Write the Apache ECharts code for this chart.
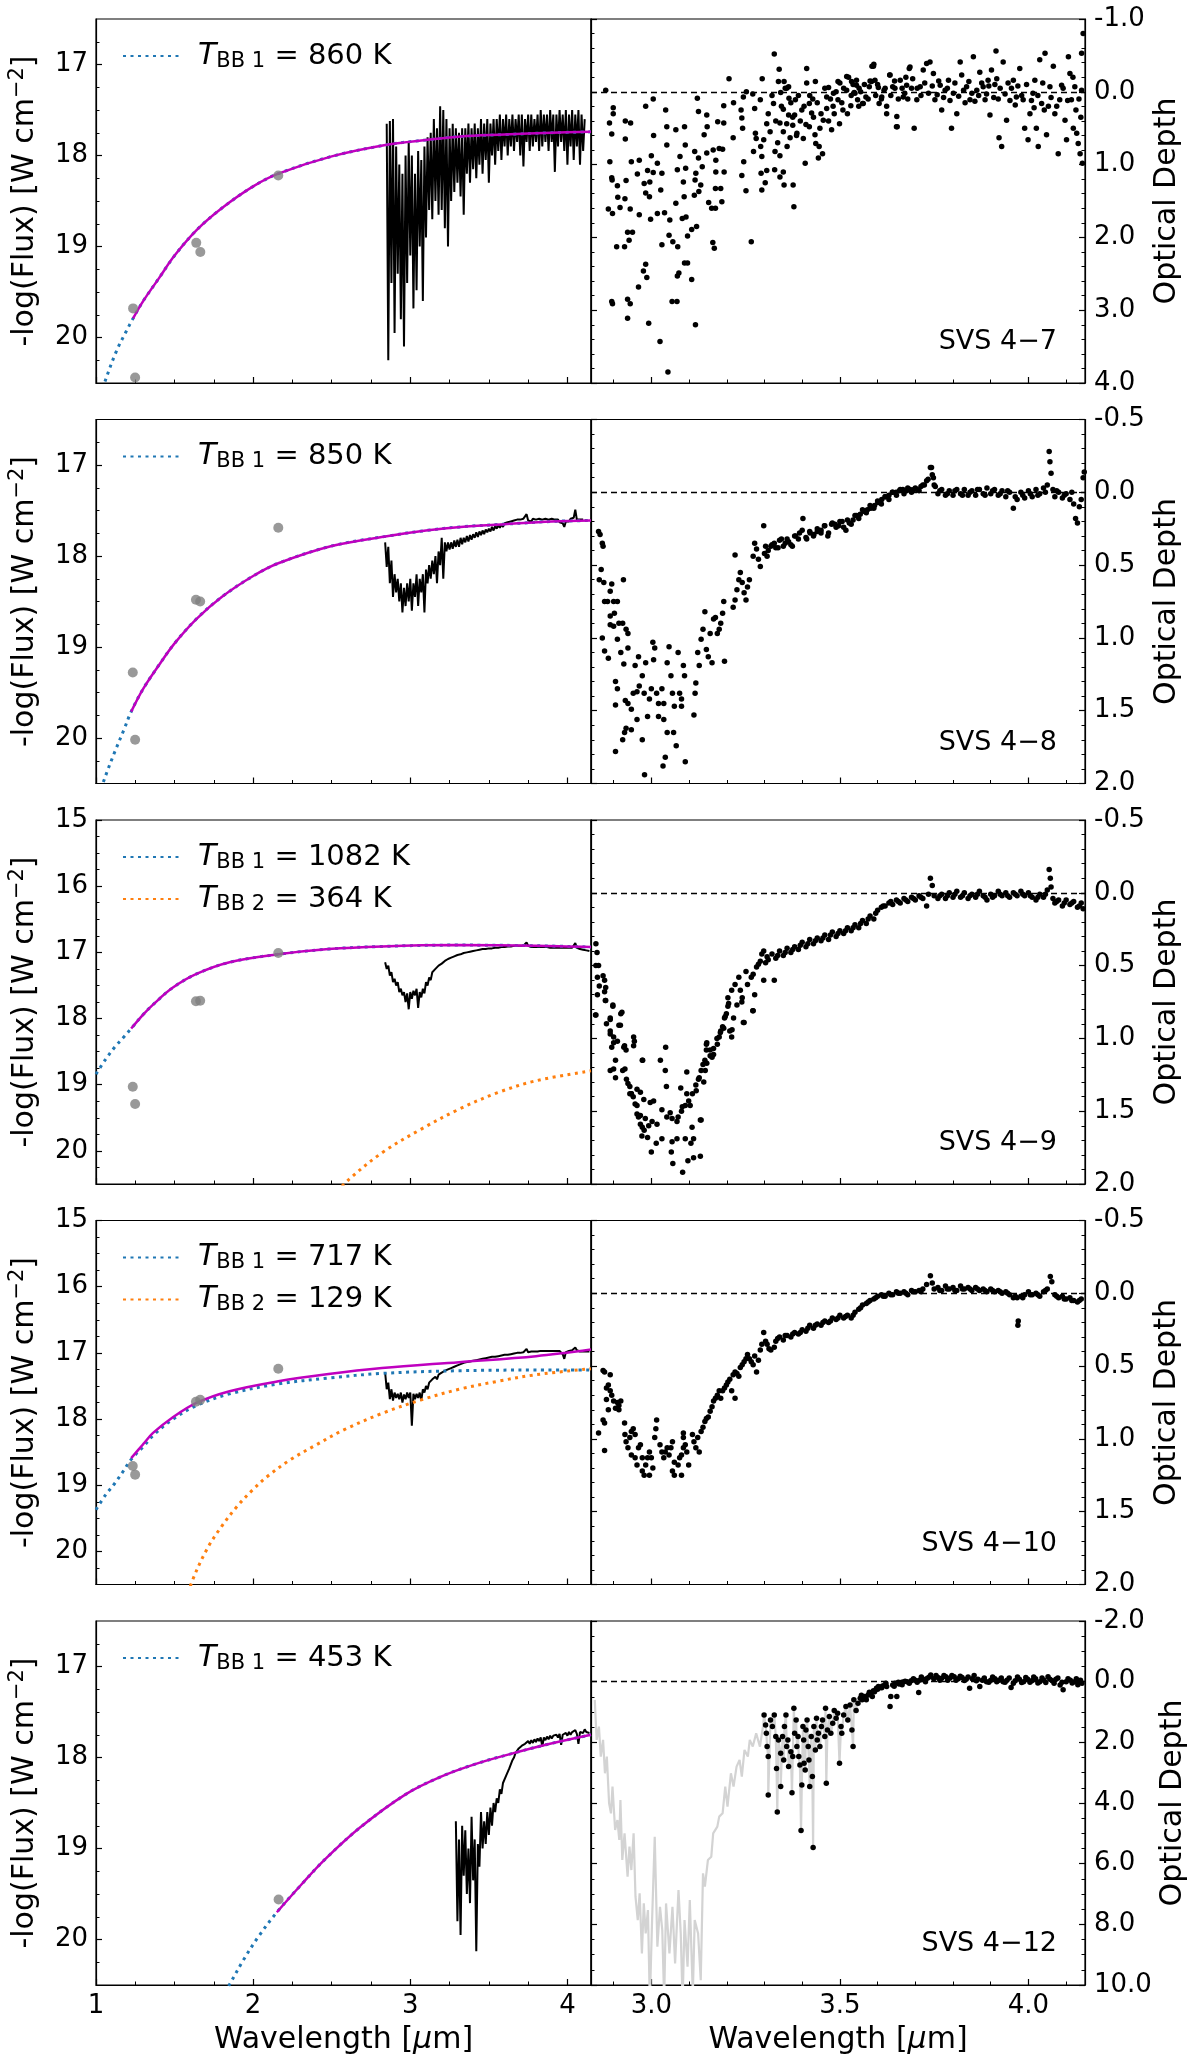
<!DOCTYPE html>
<html><head><meta charset="utf-8">
<script src="https://cdn.jsdelivr.net/npm/echarts@6/dist/echarts.min.js"></script>
<style>html,body{margin:0;padding:0;background:#fff}#c{width:1200px;height:2065px}</style>
</head><body><div id="c"></div>
<script>
// ---------------- DATA ----------------
const sourceNames = ['SVS 4\u22127','SVS 4\u22128','SVS 4\u22129','SVS 4\u221210','SVS 4\u221212'];
const tempBB1 = [860, 850, 1082, 717, 453];
const tempBB2 = [null, null, 364, 129, null];

const leftXMajor = [1,2,3,4];
const leftXMinor = [1.25,1.5,1.75,2.25,2.5,2.75,3.25,3.5,3.75];
const rightXMajor = [3.0,3.5,4.0];
const rightXMinor = [2.9,3.1,3.2,3.3,3.4,3.6,3.7,3.8,3.9,4.1];
const fluxMajorA = [17,18,19,20];
const fluxMinorA = [16.75,17.25,17.5,17.75,18.25,18.5,18.75,19.25,19.5,19.75,20.25];
const fluxMajorB = [15,16,17,18,19,20];
const fluxMinorB = [15.25,15.5,15.75,16.25,16.5,16.75,17.25,17.5,17.75,18.25,18.5,18.75,19.25,19.5,19.75,20.25];

// wavelength grid of the spectra (um)
const wavelengthGrid = [2.84,2.85,2.86,2.87,2.88,2.89,
2.90,2.91,2.92,2.93,2.94,2.95,2.96,2.97,2.98,2.99,
3.00,3.01,3.02,3.03,3.04,3.05,3.06,3.07,3.08,3.09,
3.10,3.11,3.12,3.13,3.14,3.15,3.16,3.17,3.18,3.19,
3.20,3.21,3.22,3.23,3.24,3.25,3.26,3.27,3.28,3.29,
3.30,3.31,3.32,3.33,3.34,3.35,3.36,3.37,3.38,3.39,
3.40,3.41,3.42,3.43,3.44,3.45,3.46,3.47,3.48,3.49,
3.50,3.51,3.52,3.53,3.54,3.55,3.56,3.57,3.58,3.59,
3.60,3.61,3.62,3.63,3.64,3.65,3.66,3.67,3.68,3.69,
3.70,3.71,3.72,3.73,3.74,3.75,3.76,3.77,3.78,3.79,
3.80,3.81,3.82,3.83,3.84,3.85,3.86,3.87,3.88,3.89,
3.90,3.91,3.92,3.93,3.94,3.95,3.96,3.97,3.98,3.99,
4.00,4.01,4.02,4.03,4.04,4.05,4.06,4.07,4.08,4.09,
4.10,4.11,4.12,4.13,4.14];

// -log(Flux) spectra on the grid above
const spec47 = [null,17.65,20.25,17.62,19.4,17.6,
19.95,17.9,19.3,18.1,19.8,18.2,20.1,18.0,19.4,17.85,
19.1,18.0,19.68,18.2,19.48,17.95,19.0,18.05,19.6,17.9,
18.9,17.8,18.6,17.75,18.7,17.6,18.5,17.7,18.65,17.46,
18.6,17.5,18.8,17.6,19.0,17.7,18.5,17.65,18.4,17.7,
18.3,17.75,18.45,17.7,18.65,17.7,18.2,17.65,18.3,17.7,
18.15,17.65,18.25,17.7,18.1,17.6,18.2,17.65,18.05,17.6,
18.3,17.65,18.0,17.6,18.1,17.6,17.95,17.55,18.05,17.6,
17.9,17.55,18.0,17.6,17.9,17.55,17.95,17.6,17.85,17.55,
18.0,17.55,18.12,17.6,17.85,17.55,17.95,17.55,17.9,17.6,
17.85,17.55,17.95,17.5,17.9,17.55,17.85,17.55,17.95,17.5,
17.85,17.55,18.18,17.55,17.9,17.5,17.85,17.55,17.95,17.5,
18.1,17.55,17.9,17.5,18.05,17.55,17.9,17.5,18.1,17.55,
17.95,17.6,null,null,null];
const spec48 = [17.85,18.12,17.9,18.3,18.05,18.45,
18.2,18.4,18.25,18.5,18.3,18.62,18.35,18.55,18.3,18.5,
18.25,18.6,18.3,18.45,18.2,18.55,18.25,18.4,18.2,18.62,
18.15,18.3,18.1,18.25,18.05,18.2,18.0,18.3,17.95,18.1,
17.8,18.25,17.85,17.95,17.85,17.93,17.85,17.92,17.83,17.9,
17.82,17.9,17.8,17.87,17.8,17.85,17.78,17.84,17.77,17.82,
17.76,17.8,17.74,17.79,17.73,17.77,17.72,17.76,17.71,17.74,
17.7,17.73,17.68,17.72,17.67,17.7,17.66,17.69,17.65,17.68,
17.64,17.66,17.63,17.65,17.62,17.64,17.61,17.63,17.6,17.62,
17.6,17.62,17.59,17.61,17.54,17.61,17.6,17.62,17.59,17.61,
17.6,17.62,17.59,17.61,17.6,17.62,17.59,17.61,17.6,17.62,
17.59,17.61,17.6,17.62,17.6,17.63,17.61,17.64,17.68,17.62,
17.6,17.62,17.59,17.61,17.58,17.49,17.6,17.62,17.6,17.61,
17.6,null,null,null,null];
const spec49 = [17.15,17.25,17.2,17.35,17.3,17.45,
17.4,17.5,17.45,17.6,17.55,17.65,17.6,17.75,17.62,17.86,
17.6,17.7,17.58,17.65,17.55,17.84,17.6,17.68,17.55,17.62,
17.45,17.5,17.38,17.42,17.3,17.33,17.25,17.27,17.2,17.22,
17.17,17.18,17.13,17.15,17.1,17.12,17.08,17.1,17.06,17.08,
17.04,17.06,17.03,17.04,17.01,17.03,17.0,17.01,16.99,17.0,
16.98,16.99,16.97,16.98,16.96,16.97,16.95,16.96,16.95,16.96,
16.94,16.95,16.94,16.95,16.93,16.94,16.93,16.94,16.92,16.93,
16.92,16.93,16.91,16.92,16.91,16.92,16.9,16.91,16.9,16.91,
16.9,16.91,16.9,16.89,16.85,16.9,16.91,16.92,16.91,16.92,
16.91,16.92,16.91,16.92,16.91,16.92,16.91,16.92,16.91,16.93,
16.92,16.93,16.92,16.93,16.92,16.93,16.92,16.93,16.94,16.93,
16.92,16.93,16.92,16.93,16.92,16.86,16.93,16.94,16.95,16.94,
16.96,16.95,16.97,16.96,16.98];
const spec410 = [17.3,17.55,17.45,17.7,17.55,17.72,
17.6,17.68,17.62,17.7,17.6,17.75,17.63,17.7,17.6,17.68,
17.6,18.1,17.62,17.7,17.62,17.68,17.6,17.72,17.55,17.6,
17.5,17.55,17.45,17.48,17.4,17.43,17.36,17.4,17.33,17.36,
17.3,17.33,17.27,17.3,17.25,17.28,17.23,17.26,17.21,17.23,
17.19,17.21,17.17,17.19,17.15,17.17,17.14,17.16,17.13,17.15,
17.12,17.14,17.11,17.12,17.1,17.12,17.09,17.11,17.08,17.1,
17.07,17.09,17.06,17.08,17.06,17.07,17.05,17.07,17.04,17.06,
17.03,17.05,17.03,17.04,17.02,17.03,17.01,17.03,17.0,17.02,
17.0,17.01,16.99,16.99,16.94,16.99,17.0,16.98,17.0,16.98,
16.99,16.98,16.99,16.97,16.99,16.97,16.98,16.97,16.98,16.97,
16.98,16.97,16.98,16.97,16.98,16.97,16.99,17.02,17.09,16.99,
16.98,16.97,16.98,16.96,16.95,16.92,16.96,16.97,16.98,16.97,
16.98,16.97,16.98,16.97,16.98];
const spec412 = [null,null,null,null,null,null,
null,null,null,null,null,null,null,null,null,null,
null,null,null,null,null,null,null,null,null,null,
null,null,null,null,null,null,null,null,null,null,
null,null,null,null,null,null,null,null,null,18.7,
19.8,18.9,19.95,18.75,19.3,18.8,19.5,19.0,19.6,18.65,
19.35,18.9,20.13,18.95,19.2,18.6,19.0,18.7,18.95,18.6,
18.85,18.55,18.75,18.5,18.6,18.45,18.5,18.35,18.4,18.28,
18.3,18.2,18.22,18.12,18.1,18.03,18.0,17.95,17.96,17.9,
17.92,17.87,17.89,17.85,17.87,17.82,17.85,17.81,17.84,17.8,
17.83,17.79,17.82,17.78,17.88,17.78,17.81,17.77,17.8,17.76,
17.79,17.76,17.78,17.75,17.78,17.74,17.86,17.75,17.77,17.73,
17.76,17.72,17.75,17.72,17.74,17.7,17.74,17.85,17.72,17.7,
17.73,17.69,17.72,17.7,17.73];

// blackbody curves [wavelength, -log F]
const bb1_47 = [[1.0,20.8],[1.06,20.47],[1.13,20.15],[1.19,19.94],[1.236,19.79],[1.3,19.6],[1.4,19.35],[1.5,19.1],[1.64,18.82],[1.8,18.58],[2.0,18.34],[2.16,18.2],[2.5,18.01],[2.86,17.88],[3.1,17.83],[3.32,17.79],[3.6,17.77],[3.9,17.75],[4.15,17.74]];
const mag47 = [[1.236,19.79],[1.3,19.6],[1.4,19.35],[1.5,19.1],[1.64,18.82],[1.8,18.58],[2.0,18.34],[2.16,18.2],[2.5,18.01],[2.86,17.88],[3.1,17.83],[3.32,17.79],[3.6,17.77],[3.9,17.75],[4.15,17.74]];
const bb1_48 = [[1.0,20.72],[1.06,20.42],[1.12,20.15],[1.18,19.9],[1.224,19.71],[1.3,19.46],[1.4,19.2],[1.5,18.96],[1.64,18.69],[1.8,18.45],[2.0,18.22],[2.16,18.08],[2.5,17.89],[2.86,17.78],[3.1,17.72],[3.32,17.68],[3.6,17.65],[3.9,17.62],[4.15,17.61]];
const mag48 = [[1.224,19.71],[1.3,19.46],[1.4,19.2],[1.5,18.96],[1.64,18.69],[1.8,18.45],[2.0,18.22],[2.16,18.08],[2.5,17.89],[2.86,17.78],[3.1,17.72],[3.32,17.68],[3.6,17.65],[3.9,17.62],[4.15,17.61]];
const bb1_49 = [[1.0,18.84],[1.06,18.62],[1.12,18.43],[1.18,18.27],[1.224,18.15],[1.3,17.94],[1.363,17.79],[1.485,17.54],[1.636,17.33],[1.85,17.15],[2.16,17.03],[2.48,16.95],[2.82,16.91],[3.3,16.89],[3.8,16.9],[4.15,16.92]];
const bb2_49 = [[2.5,20.7],[2.61,20.43],[2.825,20.02],[3.07,19.67],[3.31,19.37],[3.556,19.12],[3.8,18.94],[4.15,18.79]];
const mag49 = [[1.224,18.15],[1.3,17.94],[1.363,17.79],[1.485,17.54],[1.636,17.33],[1.85,17.15],[2.16,17.03],[2.48,16.95],[2.82,16.91],[3.3,16.89],[3.8,16.9],[4.15,16.92]];
const bb1_410 = [[1.0,19.37],[1.06,19.15],[1.12,18.97],[1.17,18.8],[1.224,18.61],[1.3,18.42],[1.363,18.25],[1.485,18.01],[1.636,17.8],[1.85,17.62],[2.16,17.47],[2.48,17.38],[2.82,17.31],[3.3,17.27],[3.8,17.26],[4.15,17.26]];
const bb2_410 = [[1.58,20.75],[1.607,20.48],[1.705,19.97],[1.8,19.62],[1.898,19.32],[1.997,19.07],[2.094,18.86],[2.24,18.61],[2.386,18.41],[2.58,18.16],[2.825,17.91],[3.07,17.71],[3.31,17.55],[3.556,17.43],[3.8,17.33],[4.15,17.24]];
const mag410 = [[1.224,18.59],[1.3,18.38],[1.363,18.21],[1.485,17.98],[1.636,17.76],[1.85,17.58],[2.16,17.43],[2.48,17.32],[2.82,17.23],[3.31,17.14],[3.8,17.05],[4.15,16.95]];
const bb1_412 = [[1.75,20.8],[1.848,20.5],[1.94,20.22],[2.033,19.97],[2.151,19.7],[2.31,19.39],[2.457,19.12],[2.68,18.77],[2.975,18.4],[3.196,18.21],[3.418,18.07],[3.64,17.96],[3.862,17.86],[4.15,17.75]];
const mag412 = [[2.151,19.7],[2.31,19.39],[2.457,19.12],[2.68,18.77],[2.975,18.4],[3.196,18.21],[3.418,18.07],[3.64,17.96],[3.862,17.86],[4.15,17.75]];

// photometry (grey dots)
const phot47 = [[1.236,19.68],[1.249,20.44],[1.638,18.96],[1.664,19.06],[2.16,18.22]];
const phot48 = [[1.234,19.28],[1.249,20.02],[1.636,18.48],[1.663,18.5],[2.16,17.69]];
const phot49 = [[1.234,19.03],[1.249,19.29],[1.636,17.74],[1.663,17.73],[2.16,17.01]];
const phot410 = [[1.234,18.71],[1.249,18.84],[1.636,17.74],[1.663,17.71],[2.16,17.24]];
const phot412 = [[2.162,19.56]];

// optical depth [wavelength, tau]
const tau47 = [[2.879,-0.02],[2.899,0.22],[2.899,0.30],[2.889,0.43],[2.895,0.58],[2.890,0.96],[2.895,1.18],[2.896,1.21],[2.910,1.29],[2.886,1.61],[2.897,1.67],[2.908,2.13],[2.895,2.88],[2.897,2.91],
[2.931,0.40],[2.945,0.43],[2.931,0.65],[2.933,1.22],[2.930,1.47],[2.911,1.45],[2.917,1.59],[2.947,0.96],[2.968,0.94],[2.963,1.13],[2.944,1.61],[2.937,1.93],[2.950,1.93],[2.929,2.13],[2.941,2.04],[2.937,2.85],[2.944,2.91],[2.937,3.11],
[2.985,0.20],[3.005,0.10],[3.006,0.60],[3.000,0.88],[3.005,1.11],[2.990,1.08],[2.981,1.26],[2.996,1.24],[2.985,1.39],[2.995,1.44],[2.968,1.69],[2.998,1.75],[2.979,2.46],[2.966,2.68],[2.988,2.55],[2.993,3.18],[2.985,2.37],[3.023,3.43],[3.044,3.85],
[3.038,0.25],[3.041,0.48],[3.041,0.73],[3.016,0.98],[3.028,1.12],[3.025,1.35],[3.016,1.67],[3.035,1.66],[3.049,1.76],[3.028,2.10],[3.047,1.97],[3.057,2.06],[3.055,2.88],[3.068,2.88],
[3.065,0.52],[3.088,0.48],[3.090,0.73],[3.076,0.89],[3.069,1.07],[3.091,1.05],[3.065,1.53],[3.085,1.24],[3.087,1.44],[3.092,1.72],[3.082,1.74],[3.070,2.13],[3.073,2.49],[3.069,2.53],[3.088,2.35],[3.096,2.35],[3.107,2.58],[3.117,3.20],
[3.122,0.09],[3.125,0.27],[3.115,0.82],[3.140,0.59],[3.148,0.48],[3.147,0.84],[3.125,0.91],[3.135,1.03],[3.118,1.12],[3.116,1.21],[3.131,1.28],[3.126,1.37],[3.114,1.42],[3.107,1.89],[3.120,1.85],[3.096,1.98],
[3.147,0.32],[3.152,1.52],[3.160,1.60],[3.170,1.60],[3.187,1.51],[3.163,2.07],[3.167,2.15],[3.170,1.33],[3.184,1.33],[3.171,1.10],[3.193,1.10],[3.171,0.94],[3.164,0.80],[3.180,0.78],[3.189,0.79],[3.192,0.43],[3.192,0.19],[3.176,0.41],
[3.206,-0.18],[3.218,0.15],[3.217,0.63],[3.238,0.25],[3.240,0.36],[3.244,0.07],[3.252,0.00],[3.242,0.50],[3.240,1.15],[3.251,1.36],[3.245,0.96],[3.265,2.06],[3.271,0.82],[3.276,0.57],[3.269,0.03],[3.274,0.23],[3.278,0.64],[3.289,0.11],[3.294,-0.18],[3.291,1.12],[3.293,1.35],[3.306,1.08],[3.302,1.25],[3.290,0.75],[3.293,0.89],[3.298,0.66],[3.306,0.44],
[3.326,-0.52],[3.339,-0.31],[3.337,-0.14],[3.343,0.01],[3.324,0.16],[3.352,-0.14],[3.359,-0.05],[3.364,-0.07],[3.365,0.09],[3.350,0.24],[3.364,0.32],[3.341,0.43],[3.359,0.44],[3.375,0.46],[3.382,0.11],[3.328,0.82],[3.341,0.88],[3.327,1.07],[3.350,1.10],[3.341,1.17],[3.352,1.28],[3.376,1.28],[3.378,1.58],[3.368,0.63],[3.386,0.57],[3.380,0.32],[3.399,0.25],[3.408,0.98],[3.403,0.64],
[3.412,-0.12],[3.412,-0.32],[3.419,0.16],[3.428,0.10],[3.435,-0.14],[3.425,0.29],[3.419,0.48],[3.434,0.59],[3.436,0.71],[3.445,0.75],[3.447,0.50],[3.443,0.91],[3.454,0.85],[3.456,0.39],[3.465,0.23],[3.470,-0.06],[3.465,0.07],[3.478,0.52],[3.482,0.20],[3.495,0.11],[3.495,-0.14],[3.499,0.44],
[3.508,0.25],[3.518,-0.02],[3.523,-0.20],[3.529,0.19],[3.538,0.01],[3.544,-0.09],[3.547,0.11],[3.551,-0.05],[3.560,0.16],[3.569,0.07],[3.578,-0.07],[3.585,-0.35],[3.590,-0.38],[3.593,-0.16],[3.604,0.16],[3.617,-0.02],[3.624,0.30],[3.632,-0.23],[3.640,-0.07],[3.650,0.48],[3.651,0.34],[3.660,-0.16],[3.672,0.02],[3.686,-0.34],
[3.483,0.02],[3.500,-0.12],[3.518,-0.21],[3.531,-0.14],[3.544,-0.16],[3.540,0.02],[3.562,0.16],[3.589,-0.35],[3.584,-0.14],[3.602,-0.06],[3.611,0.07],[3.624,0.20],[3.633,-0.23],[3.646,-0.05],[3.652,0.48],[3.668,0.07],[3.677,-0.09],[3.684,-0.32],
[3.693,-0.18],[3.697,0.50],[3.704,0.11],[3.713,-0.07],[3.721,-0.30],[3.730,-0.39],[3.739,-0.41],[3.748,-0.25],[3.752,0.11],[3.766,-0.09],[3.770,0.25],[3.779,-0.02],[3.788,-0.16],[3.796,0.50],[3.801,0.02],[3.810,0.30],[3.819,-0.41],[3.823,-0.23],[3.836,-0.07],[3.845,0.11],[3.854,-0.48],[3.863,-0.02],[3.871,-0.27],[3.880,-0.07],[3.885,0.11],[3.893,-0.16],[3.898,0.32],[3.902,-0.30],[3.914,-0.56],[3.916,-0.18],[3.922,0.63],[3.929,0.75],[3.925,-0.05],[3.933,-0.41],[3.942,0.39],[3.946,-0.12],[3.960,-0.16],[3.968,0.07],[3.977,-0.32],[3.986,0.11],[3.990,0.50],[3.999,0.66],[4.004,0.30],[4.012,0.02],[4.017,-0.16],[4.021,0.50],[4.026,0.75],[4.030,-0.44],[4.035,0.16],[4.044,-0.53],[4.048,0.59],[4.053,0.20],[4.057,-0.07],[4.066,-0.35],[4.070,0.30],[4.079,0.85],[4.083,0.11],[4.088,-0.09],[4.097,0.39],[4.101,0.66],[4.106,-0.48],[4.110,-0.25],[4.114,0.11],[4.119,0.50],[4.123,-0.07],[4.128,0.57],[4.132,0.71],[4.137,0.85],[4.141,-0.53],[4.143,0.98],[4.145,-0.80],[4.141,-0.02],
[3.705,-0.05],[3.715,0.05],[3.725,-0.12],[3.735,0.02],[3.745,-0.08],[3.758,0.04],[3.762,-0.15],[3.775,0.08],[3.785,-0.05],[3.792,0.12],[3.805,-0.12],[3.815,0.06],[3.828,-0.02],[3.832,0.15],[3.842,-0.14],[3.850,0.02],[3.858,0.13],[3.868,0.05],[3.876,-0.12],[3.889,0.03],[3.895,-0.08],[3.908,0.08],[3.911,-0.10],[3.920,0.10],[3.938,0.03],[3.951,0.12],[3.955,-0.05],[3.965,0.18],[3.972,-0.08],[3.982,0.05],[3.995,-0.10],[4.008,0.12],[4.015,0.22],[4.025,0.05],[4.038,-0.12],[4.042,0.25],[4.060,0.08],[4.075,0.20],[4.092,-0.05],[4.104,0.12],[4.118,-0.20],[4.126,0.25],[4.134,0.10],[4.139,0.35],
[3.310,0.30],[3.315,0.55],[3.320,0.05],[3.330,0.40],[3.335,0.70],[3.345,0.20],[3.350,0.55],[3.355,-0.05],[3.360,0.75],[3.370,0.15],[3.375,0.35],[3.385,0.60],[3.390,0.05],[3.395,0.40],[3.405,0.20],[3.410,0.45],[3.420,0.05],[3.430,0.35],[3.440,0.15],[3.450,0.30],[3.460,-0.05],[3.470,0.40],[3.475,0.10],[3.485,0.30],[3.490,0.00],[3.505,0.15],[3.510,-0.05],[3.520,0.30],[3.530,0.05],[3.535,-0.10],[3.550,0.20],[3.555,0.00],[3.565,-0.10],[3.575,0.10],[3.580,-0.15],[3.595,0.05],[3.600,-0.10],[3.610,0.10],[3.620,-0.05],[3.635,0.05],[3.645,-0.15],[3.655,0.10],[3.665,-0.05],[3.675,-0.20],[3.680,0.10],[3.690,-0.05]];

const tau48 = [[2.860,0.27],[2.864,0.29],[2.870,0.35],[2.872,0.37],[2.867,0.53],[2.862,0.60],[2.874,0.62],[2.870,1.00],[2.876,1.09],[2.886,1.14],[2.876,0.75],[2.884,0.75],[2.891,0.68],[2.895,0.63],[2.900,0.75],[2.910,0.75],[2.902,0.83],[2.891,0.85],[2.891,0.91],[2.900,0.92],[2.914,0.90],[2.924,0.90],[2.926,0.60],[2.933,0.94],[2.938,0.97],[2.910,1.01],[2.919,1.10],[2.938,1.07],[2.927,1.18],[2.905,1.30],[2.910,1.35],[2.905,1.46],[2.905,1.78],
[2.931,1.43],[2.938,1.45],[2.947,1.49],[2.952,1.38],[2.957,1.19],[2.962,1.37],[2.966,1.13],[2.968,1.33],[2.976,1.26],[2.981,1.38],[2.985,1.17],[2.990,1.54],[2.995,1.42],[3.000,1.35],[3.004,1.03],[3.009,1.07],[3.006,1.15],[3.014,1.38],[3.019,1.45],[3.019,1.54],[3.028,1.35],[3.033,1.45],[3.033,1.56],[3.037,1.82],[3.042,1.17],[3.047,1.06],[3.042,1.65],[2.933,1.62],[2.929,1.65],[2.924,1.70],[2.947,1.63],[2.962,1.56],[2.976,1.70],[2.982,1.94],[3.031,1.88],[3.090,1.85],
[3.052,1.26],[3.056,1.38],[3.061,1.47],[3.059,1.65],[3.066,1.74],[3.071,1.10],[3.075,1.38],[3.080,1.42],[3.085,1.19],[3.088,1.26],[3.080,1.47],
[3.113,1.53],[3.116,1.38],[3.118,1.31],[3.123,1.10],[3.127,1.19],[3.132,1.01],[3.137,0.94],[3.142,0.82],[3.146,1.08],[3.151,1.13],[3.156,0.97],[3.161,1.17],[3.165,0.87],[3.170,0.86],[3.175,0.97],[3.180,0.94],[3.184,0.90],[3.189,0.83],[3.194,1.16],[3.192,0.75],
[3.217,0.79],[3.222,0.74],[3.227,0.67],[3.232,0.60],[3.236,0.55],[3.241,0.62],[3.246,0.69],[3.251,0.74],[3.255,0.65],[3.260,0.60],[3.222,0.43],[3.270,0.44],[3.274,0.35],[3.279,0.39],[3.284,0.46],[3.289,0.51],[3.298,0.23],[3.303,0.37],
[3.307,0.44],[3.317,0.37],[3.326,0.35],[3.336,0.38],[3.345,0.32],[3.355,0.35],[3.364,0.34],[3.374,0.37],[3.383,0.30],[3.393,0.28],[3.402,0.18],[3.412,0.32],[3.421,0.28],[3.431,0.29],[3.440,0.27],[3.450,0.26],[3.459,0.23],[3.468,0.30],[3.478,0.22],[3.487,0.22],[3.497,0.23],[3.506,0.20],[3.516,0.26],[3.525,0.21],[3.535,0.19],[3.544,0.16],[3.554,0.15],[3.563,0.13],[3.573,0.12],[3.582,0.11],[3.592,0.09],[3.601,0.07],[3.611,0.05],[3.620,0.03],[3.630,0.02],[3.639,0.00],[3.649,0.00],[3.658,-0.01],[3.667,-0.02],[3.677,-0.01],[3.686,-0.02],[3.696,-0.02],[3.705,-0.02],[3.715,-0.04],[3.724,-0.05],[3.734,-0.09],[3.743,-0.17],[3.748,-0.10],[3.753,-0.04],
[3.30,0.42],[3.31,0.40],[3.32,0.36],[3.33,0.38],[3.34,0.33],[3.35,0.37],[3.36,0.32],[3.37,0.36],[3.38,0.30],[3.39,0.32],[3.40,0.26],[3.41,0.31],[3.42,0.27],[3.43,0.30],[3.44,0.25],[3.45,0.28],[3.46,0.23],[3.47,0.28],[3.48,0.21],[3.49,0.24],[3.50,0.20],[3.51,0.24],[3.52,0.19],[3.53,0.22],[3.54,0.16],[3.55,0.18],[3.56,0.12],[3.57,0.14],[3.58,0.09],[3.59,0.11],[3.60,0.06],[3.61,0.08],[3.62,0.03],[3.63,0.05],[3.64,0.00],[3.65,0.02],[3.66,-0.02],[3.67,0.01],[3.68,-0.03],[3.69,0.00],[3.70,-0.03],[3.71,-0.01],[3.72,-0.05],[3.73,-0.08],[3.74,-0.17],[3.745,-0.12],[3.75,-0.05],
[3.76,0.01],[3.77,-0.02],[3.78,0.02],[3.79,-0.01],[3.80,0.02],[3.81,-0.02],[3.82,0.01],[3.83,-0.02],[3.84,0.02],[3.85,-0.01],[3.86,0.02],[3.87,-0.02],[3.88,0.01],[3.89,-0.03],[3.90,0.01],[3.91,-0.02],[3.92,0.02],[3.93,-0.01],[3.94,0.03],[3.95,0.00],[3.96,0.11],[3.965,0.03],[3.97,0.05],[3.98,0.00],[3.99,0.04],[4.00,-0.01],[4.01,0.03],[4.02,-0.02],[4.03,0.01],[4.04,-0.03],[4.05,-0.05],[4.055,-0.28],[4.057,-0.21],[4.06,-0.13],[4.065,-0.02],[4.07,0.03],[4.08,0.00],[4.09,0.04],[4.10,0.01],[4.11,0.05],[4.12,0.08],[4.125,0.18],[4.13,0.21],[4.135,0.10],[4.14,0.05],[4.145,-0.10],[4.148,-0.14],
[3.765,-0.01],[3.785,0.01],[3.805,-0.01],[3.825,0.02],[3.845,0.00],[3.865,-0.02],[3.885,0.02],[3.905,-0.01],[3.925,0.01],[3.945,-0.01],[3.985,0.02],[4.005,0.01],[4.025,0.02],[4.045,0.00],[4.075,-0.01],[4.095,0.02],[4.115,0.00]];

const tau49 = [[2.853,0.35],[2.856,0.41],[2.853,0.50],[2.860,0.50],[2.857,0.58],[2.872,0.57],[2.862,0.64],[2.876,0.60],[2.879,0.65],[2.857,0.70],[2.876,0.68],[2.879,0.74],[2.853,0.84],[2.898,0.78],[2.919,0.83],[2.914,0.91],[2.891,0.86],[2.881,0.90],[2.900,0.99],[2.895,1.06],[2.905,1.15],[2.900,1.21],[2.929,1.05],[2.933,1.08],[2.924,1.22],[2.891,0.95],[2.910,1.02],[2.955,1.02],
[2.938,1.31],[2.943,1.38],[2.947,1.38],[2.952,1.40],[2.957,1.45],[2.962,1.52],[2.966,1.54],[2.971,1.59],[2.976,1.61],[2.981,1.63],[2.990,1.68],[2.976,1.15],
[2.852,0.84],[2.878,0.74],[2.898,0.77],[2.922,0.82],[2.891,0.87],[2.918,0.91],[2.891,0.97],[2.900,1.03],[2.927,1.06],[2.891,1.22],[2.905,1.27],[2.953,0.99],[2.953,1.05],[2.930,1.21],[2.934,1.28],[2.943,1.33],[2.947,1.38],[2.962,1.35],[2.971,1.37],[2.977,1.15],[2.980,1.42],[2.962,1.46],[2.971,1.53],[2.984,1.55],[2.975,1.67],[2.997,1.44],[3.006,1.43],[2.993,1.60],[3.002,1.57],[3.015,1.59],[3.000,1.78],[3.013,1.72],[3.024,1.15],[3.038,1.06],[3.037,1.22],[3.040,1.33],[3.028,1.49],[3.028,1.69],[3.041,1.54],[3.050,1.51],[3.055,1.55],[3.055,1.71],[3.053,1.78],[3.057,1.86],[3.068,1.57],[3.068,1.69],[3.078,1.34],[3.082,1.47],[3.083,1.92],[3.090,1.69],[3.094,1.23],[3.094,1.38],[3.097,1.84],[3.103,1.46],[3.105,1.72],[3.108,1.61],[3.112,1.69],[3.112,1.82],[3.119,1.36],[3.125,1.28],[3.130,1.56],[3.130,1.81],[3.139,1.30],[3.143,1.22],[3.147,1.17],[3.147,1.03],[3.156,1.12],[3.165,1.07],[3.174,1.00],[3.183,0.96],[3.192,0.93],[3.196,0.85],[3.205,0.76],[3.214,0.94],[3.218,0.86],[3.227,0.77],[3.240,0.75],[3.244,0.89],[3.269,0.81],
[3.071,1.54],[3.080,1.50],[3.090,1.46],[3.099,1.43],[3.109,1.38],[3.118,1.32],[3.127,1.27],[3.132,1.22],[3.137,1.18],[3.142,1.15],[3.146,1.08],[3.132,1.56],[3.146,1.04],[3.156,1.08],[3.161,1.13],[3.165,1.11],[3.175,1.04],[3.180,0.99],[3.184,0.95],[3.189,0.92],[3.194,0.86],[3.199,0.83],[3.203,0.78],[3.203,0.72],[3.213,0.99],[3.208,0.95],
[3.213,0.67],[3.222,0.63],[3.232,0.58],[3.236,0.67],[3.241,0.72],[3.246,0.89],[3.251,0.54],[3.255,0.63],[3.265,0.58],[3.270,0.56],[3.274,0.70],[3.270,0.81],[3.279,0.51],[3.284,0.49],[3.289,0.47],[3.293,0.42],[3.298,0.40],[3.303,0.48],[3.307,0.44],[3.298,0.60],[3.326,0.60],
[3.31,0.46],[3.32,0.42],[3.33,0.45],[3.34,0.40],[3.35,0.43],[3.36,0.38],[3.37,0.41],[3.38,0.37],[3.39,0.39],[3.40,0.34],[3.41,0.37],[3.42,0.32],[3.43,0.35],[3.44,0.31],[3.45,0.33],[3.46,0.29],[3.47,0.32],[3.48,0.27],[3.49,0.30],[3.50,0.26],[3.51,0.28],[3.52,0.24],[3.53,0.26],[3.54,0.22],[3.55,0.24],[3.56,0.19],[3.57,0.21],[3.58,0.16],[3.59,0.18],[3.60,0.12],[3.61,0.10],[3.62,0.09],[3.63,0.07],[3.64,0.08],[3.65,0.05],[3.66,0.07],[3.67,0.04],[3.68,0.06],[3.69,0.03],[3.70,0.05],[3.71,0.02],[3.72,0.04],[3.73,0.09],[3.735,0.01],[3.74,-0.10],[3.745,-0.05],[3.75,0.02],
[3.76,0.04],[3.77,0.01],[3.78,0.04],[3.79,0.00],[3.80,0.03],[3.81,-0.01],[3.82,0.03],[3.83,0.00],[3.84,0.04],[3.85,0.01],[3.86,0.03],[3.87,-0.01],[3.88,0.02],[3.89,0.05],[3.90,0.01],[3.91,0.02],[3.92,-0.01],[3.93,0.02],[3.94,0.00],[3.95,0.03],[3.96,0.00],[3.97,0.02],[3.98,-0.01],[3.99,0.02],[4.00,0.00],[4.01,0.03],[4.02,0.05],[4.03,0.01],[4.04,0.03],[4.05,-0.02],[4.055,-0.16],[4.058,-0.10],[4.06,-0.04],[4.065,0.04],[4.07,0.07],[4.08,0.05],[4.09,0.09],[4.10,0.05],[4.11,0.08],[4.12,0.06],[4.13,0.10],[4.14,0.07],[4.145,0.11],
[3.335,0.43],[3.355,0.41],[3.375,0.39],[3.395,0.36],[3.415,0.35],[3.435,0.33],[3.455,0.31],[3.475,0.29],[3.495,0.28],[3.515,0.26],[3.535,0.24],[3.555,0.21],[3.575,0.18],[3.595,0.14],[3.615,0.09],[3.635,0.06],[3.655,0.06],[3.675,0.05],[3.695,0.04],[3.715,0.03],[3.765,0.02],[3.785,0.02],[3.805,0.01],[3.825,0.02],[3.845,0.02],[3.865,0.01],[3.885,0.03],[3.905,0.03],[3.925,0.01],[3.945,0.02],[3.965,0.01],[3.985,0.01],[4.005,0.02],[4.025,0.03],[4.045,0.01],[4.075,0.06],[4.095,0.07],[4.115,0.07],[4.135,0.09]];

const tau410 = [[2.860,0.96],[2.876,1.08],[2.872,0.87],[2.876,0.89],[2.872,0.53],[2.876,0.54],[2.891,0.56],[2.886,0.63],[2.881,0.65],[2.891,0.67],[2.895,0.70],[2.881,0.73],[2.900,0.74],[2.910,0.75],[2.914,0.77],[2.919,0.74],[2.905,0.79],[2.914,0.80],[2.886,0.80],
[2.929,0.89],[2.930,0.97],[2.933,1.02],[2.938,1.06],[2.943,0.99],[2.947,0.95],[2.952,0.93],[2.957,0.97],[2.947,1.11],[2.957,1.13],[2.962,1.18],[2.966,1.06],[2.971,1.04],[2.976,1.13],[2.976,1.22],[2.981,1.25],[2.985,1.18],[2.990,1.13],[2.995,1.09],[3.000,1.13],[3.004,1.20],[2.995,1.25],[3.009,0.99],[3.014,0.87],[3.012,0.93],
[3.023,1.04],[3.028,1.09],[3.033,1.13],[3.037,1.09],[3.042,1.06],[3.047,1.11],[3.052,1.06],[3.056,1.02],[3.061,1.16],[3.056,1.22],[3.061,1.25],[3.071,1.18],[3.075,1.13],[3.080,1.11],[3.085,1.06],[3.080,1.25],[3.090,1.04],[3.085,0.99],[3.094,1.09],[3.099,1.18],[3.085,0.96],
[3.109,0.97],[3.113,1.02],[3.118,1.06],[3.123,0.99],[3.127,1.09],[3.132,0.95],[3.137,0.92],[3.142,0.88],[3.146,0.86],[3.151,0.85],[3.156,0.81],[3.161,0.78],[3.165,0.74],[3.170,0.72],[3.175,0.70],[3.180,0.67],[3.184,0.72],[3.189,0.67],[3.194,0.65],[3.199,0.63],[3.203,0.61],[3.208,0.59],[3.213,0.67],[3.222,0.72],[3.217,0.56],[3.222,0.54],[3.227,0.55],[3.232,0.57],[3.236,0.51],[3.241,0.49],[3.246,0.47],[3.251,0.45],[3.255,0.42],[3.260,0.45],[3.265,0.47],[3.270,0.49],[3.274,0.43],[3.279,0.54],[3.284,0.46],[3.289,0.39],[3.293,0.35],[3.298,0.27],[3.303,0.33],[3.307,0.35],[3.312,0.38],[3.317,0.39],[3.326,0.37],
[3.33,0.33],[3.34,0.30],[3.35,0.32],[3.36,0.29],[3.37,0.30],[3.38,0.27],[3.39,0.28],[3.40,0.25],[3.41,0.26],[3.42,0.22],[3.43,0.24],[3.44,0.21],[3.45,0.22],[3.46,0.19],[3.47,0.20],[3.48,0.17],[3.49,0.18],[3.50,0.15],[3.51,0.17],[3.52,0.15],[3.53,0.17],[3.54,0.13],[3.55,0.11],[3.56,0.08],[3.57,0.07],[3.58,0.05],[3.59,0.04],[3.60,0.02],[3.61,0.01],[3.62,0.02],[3.63,0.00],[3.64,0.01],[3.65,-0.01],[3.66,0.00],[3.67,-0.01],[3.68,0.01],[3.69,-0.02],[3.70,-0.01],[3.71,-0.02],[3.72,-0.03],[3.73,-0.06],[3.74,-0.12],[3.745,-0.07],[3.75,-0.03],
[3.76,-0.04],[3.77,-0.02],[3.78,-0.05],[3.79,-0.03],[3.80,-0.04],[3.81,-0.02],[3.82,-0.05],[3.83,-0.03],[3.84,-0.04],[3.85,-0.02],[3.86,-0.04],[3.87,-0.02],[3.88,-0.03],[3.89,-0.01],[3.90,-0.03],[3.91,-0.01],[3.92,-0.02],[3.93,0.00],[3.94,-0.01],[3.95,0.01],[3.96,0.03],[3.965,0.02],[3.97,0.03],[3.972,0.22],[3.973,0.19],[3.98,0.02],[3.99,0.01],[4.00,-0.01],[4.01,0.01],[4.02,0.00],[4.03,0.02],[4.04,-0.01],[4.05,-0.03],[4.058,-0.115],[4.062,-0.08],[4.07,0.01],[4.08,0.03],[4.09,0.02],[4.10,0.04],[4.11,0.03],[4.12,0.05],[4.13,0.06],[4.14,0.04],
[3.335,0.31],[3.355,0.29],[3.375,0.28],[3.395,0.27],[3.415,0.24],[3.435,0.22],[3.455,0.20],[3.475,0.19],[3.495,0.17],[3.515,0.16],[3.535,0.15],[3.555,0.10],[3.575,0.06],[3.595,0.03],[3.615,0.02],[3.635,0.01],[3.655,0.00],[3.675,0.00],[3.695,-0.01],[3.715,-0.01],[3.765,-0.02],[3.785,-0.03],[3.805,-0.02],[3.825,-0.03],[3.845,-0.03],[3.865,-0.03],[3.885,-0.02],[3.905,-0.02],[3.925,-0.01],[3.945,0.00],[3.985,0.03],[4.005,0.01],[4.025,0.01],[4.045,-0.02],[4.075,0.02],[4.095,0.04],[4.115,0.05],[4.135,0.05]];

const tau412 = [[3.299,1.10],[3.303,1.43],[3.305,1.70],[3.307,2.14],[3.310,2.47],[3.310,3.74],[3.316,1.26],[3.321,1.48],[3.326,1.10],[3.330,1.81],[3.332,2.86],[3.334,4.30],[3.337,1.92],[3.343,2.36],[3.343,3.46],[3.348,1.81],[3.351,2.58],[3.353,1.48],[3.357,1.10],[3.359,2.14],[3.362,1.92],[3.364,2.80],[3.370,2.31],[3.373,3.66],[3.375,2.47],[3.378,0.88],[3.380,1.70],[3.384,1.26],[3.386,2.14],[3.389,1.81],[3.391,2.47],[3.394,2.75],[3.397,4.91],[3.399,3.41],[3.402,1.48],[3.404,1.92],[3.405,2.69],[3.408,2.91],[3.410,1.59],[3.413,1.26],[3.416,2.14],[3.418,2.58],[3.420,3.46],[3.424,1.81],[3.427,3.13],[3.429,5.47],[3.431,1.48],[3.435,2.25],[3.438,1.21],[3.440,1.92],[3.443,1.70],[3.447,2.14],[3.451,1.48],[3.454,1.26],[3.460,1.81],[3.462,0.88],[3.464,3.35],[3.467,1.59],[3.472,1.15],[3.476,1.70],[3.481,1.37],[3.485,0.95],[3.490,1.21],[3.494,1.04],[3.499,2.69],[3.503,1.48],[3.505,1.70],[3.510,1.10],[3.516,0.82],[3.521,1.26],[3.527,0.77],[3.532,1.59],[3.535,2.14],[3.537,0.60],[3.543,0.95],[3.548,0.71],
[3.554,0.55],[3.559,0.60],[3.565,0.49],[3.570,0.60],[3.575,0.44],[3.581,0.38],[3.586,0.49],[3.592,0.33],[3.597,0.22],[3.602,0.16],[3.608,0.19],[3.613,0.14],[3.619,0.11],[3.624,0.16],[3.633,0.82],[3.635,0.49],[3.640,0.11],[3.646,0.05],[3.651,0.49],[3.657,0.08],[3.662,0.03],[3.667,0.01],[3.673,-0.01],[3.678,0.00],[3.689,-0.03],[3.700,-0.05],[3.709,0.36],[3.711,-0.05],[3.722,-0.08],[3.732,-0.11],[3.741,-0.22],[3.749,-0.10],[3.760,-0.14],[3.770,-0.11],[3.781,-0.16],[3.792,-0.12],[3.803,-0.16],[3.814,-0.10],[3.824,-0.14],[3.835,-0.08],[3.844,0.22],[3.851,-0.10],[3.862,-0.03],[3.871,0.16],[3.878,-0.05],[3.889,0.00],[3.900,-0.05],[3.911,-0.10],[3.922,-0.05],[3.933,0.00],[3.943,-0.05],[3.954,0.19],[3.965,-0.03],[3.976,-0.08],[3.987,0.00],[3.998,-0.08],[4.009,-0.03],[4.019,-0.10],[4.030,0.00],[4.041,-0.05],[4.052,-0.16],[4.063,-0.03],[4.073,-0.08],[4.084,0.11],[4.092,0.27],[4.100,0.00],[4.111,-0.05],[4.122,0.00],[4.133,-0.03],[4.138,-0.05],
[3.557,0.45],[3.568,0.52],[3.578,0.35],[3.589,0.30],[3.600,0.25],[3.611,0.20],[3.622,0.05],[3.644,0.15],[3.655,0.02],[3.665,0.10],[3.684,0.05],[3.695,-0.10],[3.705,0.02],[3.716,-0.15],[3.727,0.00],[3.737,-0.15],[3.755,-0.20],[3.765,-0.05],[3.776,-0.20],[3.786,-0.05],[3.797,-0.20],[3.808,-0.05],[3.819,-0.18],[3.830,-0.04],[3.840,-0.15],[3.856,-0.20],[3.866,-0.08],[3.883,-0.12],[3.895,0.02],[3.905,-0.15],[3.916,0.00],[3.928,-0.12],[3.938,0.02],[3.949,-0.12],[3.960,0.05],[3.971,-0.15],[3.982,0.03],[3.993,-0.14],[4.004,0.02],[4.014,-0.15],[4.025,0.04],[4.036,-0.12],[4.046,0.03],[4.057,-0.08],[4.068,0.05],[4.078,-0.12],[4.089,0.02],[4.105,-0.10],[4.116,0.04],[4.127,-0.10],[4.131,0.10],[4.142,0.05]];

// light grey optical depth (full, unreliable part) for SVS 4-12
const greyTau412 = [[2.850,0.60],[2.855,1.92],[2.861,1.48],[2.866,2.47],[2.872,1.92],[2.877,3.02],[2.882,2.47],[2.888,4.01],[2.893,4.34],[2.897,3.46],[2.904,4.89],[2.910,4.56],[2.915,5.22],[2.918,3.90],[2.923,5.88],[2.929,5.00],[2.937,6.43],[2.942,5.44],[2.947,6.21],[2.953,5.00],[2.958,7.09],[2.964,7.86],[2.969,6.98],[2.975,8.96],[2.980,7.31],[2.985,8.30],[2.991,7.53],[2.996,10.6],[3.002,7.86],[3.009,5.11],[3.016,8.74],[3.023,7.42],[3.029,8.19],[3.034,10.5],[3.039,7.31],[3.048,8.96],[3.056,7.42],[3.063,9.29],[3.072,6.87],[3.078,8.30],[3.083,10.6],[3.088,7.86],[3.096,9.40],[3.102,7.20],[3.110,10.3],[3.115,7.86],[3.124,8.30],[3.131,9.84],[3.137,6.32],[3.142,6.76],[3.150,5.88],[3.159,5.77],[3.164,5.00],[3.175,4.78],[3.180,4.45],[3.189,4.34],[3.196,3.46],[3.202,4.12],[3.211,3.02],[3.218,3.46],[3.226,2.80],[3.234,2.58],[3.240,3.13],[3.247,2.25],[3.256,2.47],[3.261,1.92],[3.269,2.14],[3.278,1.70],[3.288,2.14],[3.296,1.48]];

// ---------------- LAYOUT / STYLE ----------------
const FONT = 'DejaVu Sans';
const TOPS = [19, 419.5, 820, 1220.5, 1621];
const H = 364;
const specs = [spec47, spec48, spec49, spec410, spec412];
const bb1s = [bb1_47, bb1_48, bb1_49, bb1_410, bb1_412];
const bb2s = [null, null, bb2_49, bb2_410, null];
const mags = [mag47, mag48, mag49, mag410, mag412];
const phots = [phot47, phot48, phot49, phot410, phot412];
const taus = [tau47, tau48, tau49, tau410, tau412];
const fluxRange = [[16.5,20.5],[16.5,20.5],[15,20.5],[15,20.5],[16.5,20.5]];
const fluxMajor = [fluxMajorA, fluxMajorA, fluxMajorB, fluxMajorB, fluxMajorA];
const fluxMinor = [fluxMinorA, fluxMinorA, fluxMinorB, fluxMinorB, fluxMinorA];
const tauAxis = [{min:-1,max:4,interval:1,split:5},{min:-0.5,max:2,interval:0.5,split:5},{min:-0.5,max:2,interval:0.5,split:5},{min:-0.5,max:2,interval:0.5,split:5},{min:-2,max:10,interval:2,split:4}];

const toPairs = (xs, ys) => xs.map((x,i)=>[x, ys[i]]).filter(p => p[1] !== null);

const BLACK = '#000';
const lineAx = {show:true, onZero:false, lineStyle:{color:BLACK, width:1.2}};
const labelStyle = {color:BLACK, fontSize:26, fontFamily:FONT};
const xName = 'Wavelength [{mu|\u03bc}m]';
const xNameStyle = {fontSize:30, fontFamily:FONT, color:BLACK, lineHeight:36,
  rich:{mu:{fontSize:30, fontFamily:FONT, fontStyle:'italic', color:BLACK, lineHeight:36}}};

const grids = [], xAxes = [], yAxes = [], series = [], legends = [], titles = [];
const legendText = {};

for (let r = 0; r < 5; r++) {
  const t = TOPS[r];
  const last = r === 4;
  grids.push({left:96, top:t, width:495, height:H, show:true, borderColor:BLACK, borderWidth:1.2, backgroundColor:'transparent'});
  grids.push({left:591, top:t, width:494, height:H, show:true, borderColor:BLACK, borderWidth:1.2, backgroundColor:'transparent'});
  const gl = 2*r, gr = 2*r+1;
  xAxes.push({type:'value', gridIndex:gl, min:1, max:4.15, position:'bottom',
    axisLine:lineAx, axisTick:{show:true, inside:true, length:6, customValues:leftXMajor, lineStyle:{color:BLACK, width:1.2}},
    axisLabel:Object.assign({show:last, customValues:leftXMajor, margin:8, formatter:v=>String(v)}, labelStyle),
    splitLine:{show:false}, name:last?xName:'', nameLocation:'middle', nameGap:37, nameTextStyle:xNameStyle});
  xAxes.push({type:'value', gridIndex:gl, min:1, max:4.15, position:'bottom',
    axisLine:{show:false, onZero:false}, axisTick:{show:true, inside:true, length:3.5, customValues:leftXMinor, lineStyle:{color:BLACK, width:1}},
    axisLabel:{show:false}, splitLine:{show:false}});
  xAxes.push({type:'value', gridIndex:gr, min:2.84, max:4.15, position:'bottom',
    axisLine:lineAx, axisTick:{show:true, inside:true, length:6, customValues:rightXMajor, lineStyle:{color:BLACK, width:1.2}},
    axisLabel:Object.assign({show:last, customValues:rightXMajor, margin:8, formatter:v=>v.toFixed(1)}, labelStyle),
    splitLine:{show:false}, name:last?xName:'', nameLocation:'middle', nameGap:37, nameTextStyle:xNameStyle});
  xAxes.push({type:'value', gridIndex:gr, min:2.84, max:4.15, position:'bottom',
    axisLine:{show:false, onZero:false}, axisTick:{show:true, inside:true, length:3.5, customValues:rightXMinor, lineStyle:{color:BLACK, width:1}},
    axisLabel:{show:false}, splitLine:{show:false}});
  const fr = fluxRange[r];
  yAxes.push({type:'value', gridIndex:gl, position:'left', min:fr[0], max:fr[1], inverse:true,
    axisLine:lineAx, axisTick:{show:true, inside:true, length:6, customValues:fluxMajor[r], lineStyle:{color:BLACK, width:1.2}},
    axisLabel:Object.assign({customValues:fluxMajor[r], margin:8, formatter:v=>String(v)}, labelStyle),
    splitLine:{show:false},
    name:'-log(Flux) [W cm{sup|\u22122}]', nameLocation:'middle', nameGap:53, nameRotate:90,
    nameTextStyle:{fontSize:30, fontFamily:FONT, color:BLACK, lineHeight:36,
      rich:{sup:{fontSize:21, fontFamily:FONT, color:BLACK, verticalAlign:'top', lineHeight:22}}}});
  yAxes.push({type:'value', gridIndex:gl, position:'left', min:fr[0], max:fr[1], inverse:true,
    axisLine:{show:false, onZero:false}, axisTick:{show:true, inside:true, length:3.5, customValues:fluxMinor[r], lineStyle:{color:BLACK, width:1}},
    axisLabel:{show:false}, splitLine:{show:false}});
  const ta = tauAxis[r];
  yAxes.push({type:'value', gridIndex:gr, position:'right', min:ta.min, max:ta.max, interval:ta.interval, inverse:true,
    axisLine:lineAx, axisTick:{show:true, inside:true, length:6, lineStyle:{color:BLACK, width:1.2}},
    minorTick:{show:true, splitNumber:ta.split, length:3.5, lineStyle:{color:BLACK, width:1}},
    axisLabel:Object.assign({margin:9, formatter:v=>v.toFixed(1)}, labelStyle),
    splitLine:{show:false}, minorSplitLine:{show:false},
    name:'Optical Depth', nameLocation:'middle', nameGap:65, nameRotate:90,
    nameTextStyle:{fontSize:30, fontFamily:FONT, color:BLACK, lineHeight:34}});
  yAxes.push({type:'value', gridIndex:gr, position:'left', min:ta.min, max:ta.max, interval:ta.interval, inverse:true,
    axisLine:lineAx, axisTick:{show:true, inside:true, length:6, lineStyle:{color:BLACK, width:1.2}},
    minorTick:{show:true, splitNumber:ta.split, length:3.5, lineStyle:{color:BLACK, width:1}},
    axisLabel:{show:false}, splitLine:{show:false}, minorSplitLine:{show:false}});

  const xl = 4*r, yl = 4*r, xr = 4*r+2, yr = 4*r+2;
  series.push({type:'line', xAxisIndex:xl, yAxisIndex:yl, data:toPairs(wavelengthGrid, specs[r]), symbol:'none',
    lineStyle:{color:BLACK, width:2}, z:2, silent:true});
  const n1 = 'bb1_' + r;
  legendText[n1] = '{g| }{i|T}{s|BB 1}{n| = ' + tempBB1[r] + ' K}';
  series.push({name:n1, type:'line', xAxisIndex:xl, yAxisIndex:yl, data:bb1s[r], symbol:'none', smooth:0.35,
    itemStyle:{color:'#1f77b4'}, lineStyle:{color:'#1f77b4', width:3, type:[3,4.5]}, z:3, silent:true});
  const legendData = [n1];
  if (bb2s[r]) {
    const n2 = 'bb2_' + r;
    legendText[n2] = '{g| }{i|T}{s|BB 2}{n| = ' + tempBB2[r] + ' K}';
    series.push({name:n2, type:'line', xAxisIndex:xl, yAxisIndex:yl, data:bb2s[r], symbol:'none', smooth:0.35,
      itemStyle:{color:'#ff7f0e'}, lineStyle:{color:'#ff7f0e', width:3, type:[3,4.5]}, z:3, silent:true});
    legendData.push(n2);
  }
  series.push({type:'line', xAxisIndex:xl, yAxisIndex:yl, data:mags[r], symbol:'none', smooth:0.35,
    lineStyle:{color:'#bf00bf', width:2.5}, z:4, silent:true});
  series.push({type:'scatter', xAxisIndex:xl, yAxisIndex:yl, data:phots[r], symbolSize:10, itemStyle:{color:'#808080'}, z:5, silent:true});
  if (last) {
    const greyLine = greyTau412.concat(tau412.filter(p => p[0] <= 3.55).slice().sort((a,b)=>a[0]-b[0]));
    series.push({type:'line', xAxisIndex:xr, yAxisIndex:yr, data:greyLine, symbol:'none',
      lineStyle:{color:'#d3d3d3', width:2.2}, z:2, silent:true});
  }
  series.push({type:'scatter', xAxisIndex:xr, yAxisIndex:yr, data:taus[r], symbolSize:5.5, itemStyle:{color:BLACK, opacity:1}, z:3, silent:true,
    markLine:{silent:true, symbol:['none','none'], label:{show:false}, lineStyle:{color:BLACK, type:[6,4], width:1.3},
      data:[{yAxis:0}], animation:false}});

  legends.push({data:legendData, left:122, top:t+21, orient:'vertical', padding:0, itemWidth:56, itemHeight:14, itemGap:10,
    selectedMode:false, formatter:name => legendText[name],
    itemStyle:{opacity:0, borderWidth:0},
    textStyle:{color:BLACK, fontFamily:FONT, fontSize:29, lineHeight:32,
      rich:{g:{width:14, lineHeight:32},
            i:{fontStyle:'italic', fontSize:30, fontFamily:FONT, color:BLACK, lineHeight:32},
            s:{fontSize:21, fontFamily:FONT, color:BLACK, verticalAlign:'bottom', lineHeight:14},
            n:{fontSize:29, fontFamily:FONT, color:BLACK, lineHeight:32}}}});
  titles.push({text:sourceNames[r], right:143, top:t+H-55, padding:0,
    textStyle:{fontSize:27, fontWeight:'normal', fontFamily:FONT, color:BLACK, lineHeight:28}});
}

const chart = echarts.init(document.getElementById('c'), null, {renderer:'canvas'});
chart.setOption({
  animation:false, backgroundColor:'#fff',
  title:titles, legend:legends, grid:grids, xAxis:xAxes, yAxis:yAxes, series:series
});
</script></body></html>
